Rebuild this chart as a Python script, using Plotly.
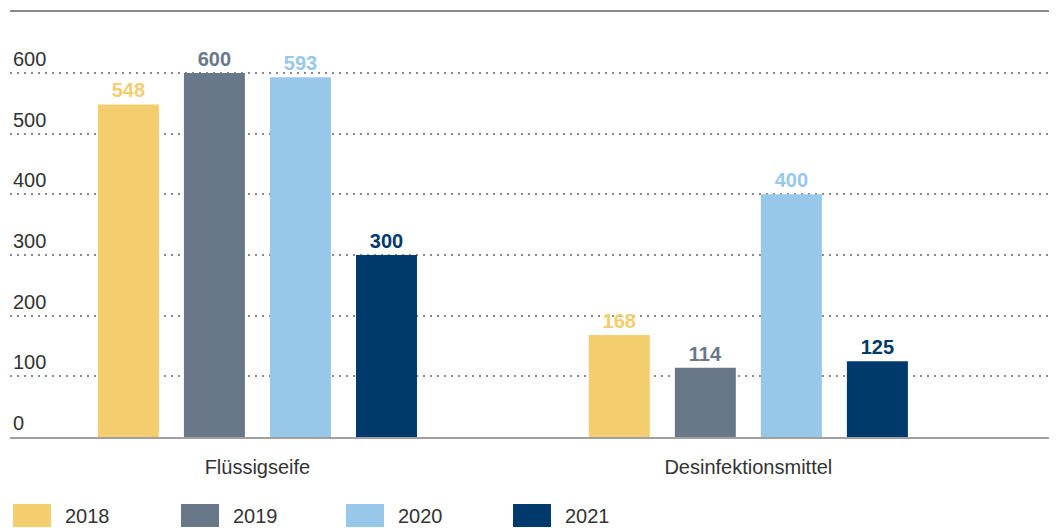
import plotly.graph_objects as go

categories = ["Flüssigseife", "Desinfektionsmittel"]
years = ["2018", "2019", "2020", "2021"]
values_2018 = [548, 168]
values_2019 = [600, 114]
values_2020 = [593, 400]
values_2021 = [300, 125]
series = [values_2018, values_2019, values_2020, values_2021]
colors = ["#F4CE6E", "#687889", "#98C8E9", "#00396B"]
y_ticks = [0, 100, 200, 300, 400, 500, 600]

W, H = 1057, 528
OFF = 8  # page body margin
L, R, T, B = 2, 0, 3, 99
PW, PH = W - L - R, H - T - B

def px_x(px):
    return (px - OFF - L) / PW

def px_y(py):
    return (H - B - (py - OFF)) / PH

FONT = "Liberation Sans, Arial, sans-serif"

fig = go.Figure()
for name, vals, col in zip(years, series, colors):
    fig.add_trace(go.Bar(
        x=categories, y=vals, name=name,
        marker=dict(color=col, line=dict(width=0)),
        text=[str(v) for v in vals], textposition="outside",
        textfont=dict(family=FONT, size=20, color=col, weight="bold"),
        cliponaxis=False, showlegend=False,
    ))

shapes = [dict(type="line", xref="paper", yref="paper", x0=0, x1=1, y0=1, y1=1,
               line=dict(color="#8a8a8a", width=2))]
annotations = []
sw_x = [13, 181, 346, 513]
for i, (name, col) in enumerate(zip(years, colors)):
    x0 = sw_x[i]
    shapes.append(dict(type="rect", xref="paper", yref="paper",
                       x0=px_x(x0), x1=px_x(x0 + 38), y0=px_y(527), y1=px_y(504),
                       fillcolor=col, line=dict(width=0)))
    annotations.append(dict(xref="paper", yref="paper", x=px_x(x0 + 50), y=px_y(516),
                            xanchor="left", yanchor="middle", text=name, showarrow=False,
                            font=dict(family=FONT, size=20, color="#333333")))

fig.update_layout(
    width=W, height=H,
    margin=dict(l=L, r=R, t=T, b=B, pad=0),
    plot_bgcolor="white", paper_bgcolor="white",
    barmode="group", bargap=0.299, bargroupgap=0.291,
    shapes=shapes, annotations=annotations,
    font=dict(family=FONT, size=20, color="#333333"),
)
fig.update_xaxes(
    range=[-0.504, 1.645], showline=True, linecolor="#a0a0a0", linewidth=2,
    showgrid=False, ticks="", ticklabelstandoff=11,
    tickfont=dict(family=FONT, size=20, color="#333333"),
)
fig.update_yaxes(
    range=[0, 702], tickvals=y_ticks, ticktext=[str(v) for v in y_ticks],
    ticklabelposition="inside top", showgrid=True, gridcolor="#8a8a8a",
    gridwidth=2, griddash="2px,5px", zeroline=False, showline=False,
    tickfont=dict(family=FONT, size=20, color="#333333"),
)

fig.write_html("out.html")
